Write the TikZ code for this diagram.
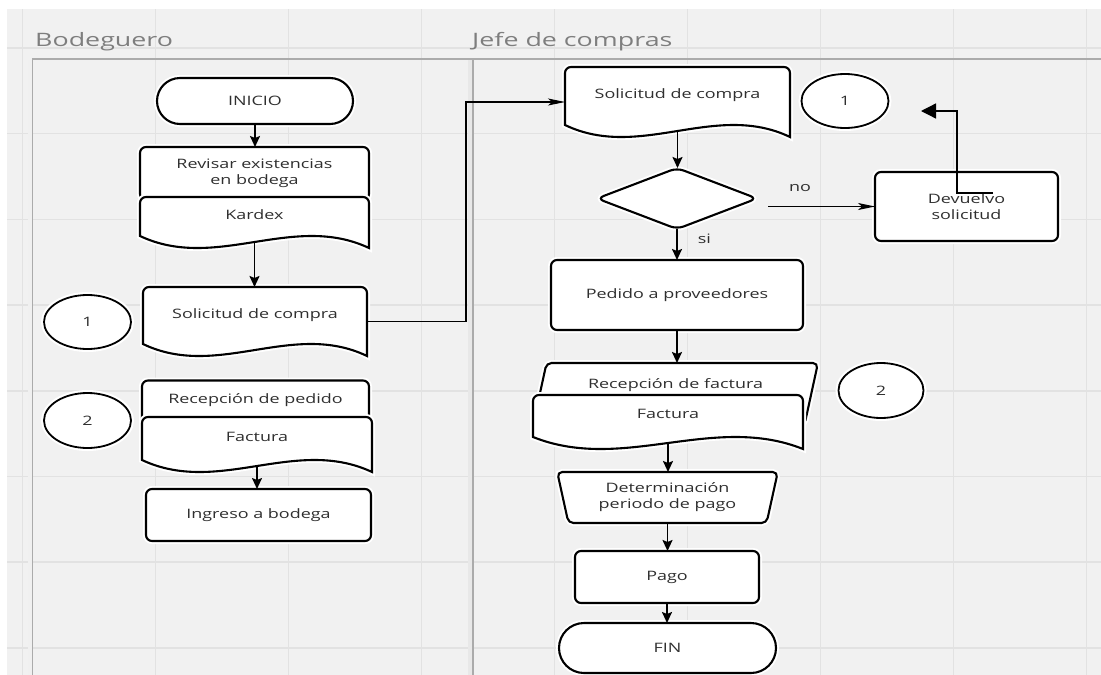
\documentclass[tikz,border=0pt]{standalone}
\usepackage{fontspec}
\setmainfont{Open Sans}[FakeStretch=1.38]
\newfontfamily\lanefont{Open Sans}[FakeStretch=1.45]
\usetikzlibrary{shapes.geometric,arrows.meta,calc}

\definecolor{canvas}{HTML}{F1F1F1}
\definecolor{gridc}{HTML}{E2E2E2}
\definecolor{lanec}{HTML}{ABABAB}
\definecolor{inkc}{HTML}{2F2F2F}
\definecolor{titlec}{HTML}{7E7E7E}

% Flowchart "document" symbol: rectangle with rounded top corners and a wavy bottom
\makeatletter
\newdimen\dcxa \newdimen\dcya \newdimen\dcxb \newdimen\dcyb \newdimen\dcw
\pgfdeclareshape{docshape}{%
  \inheritsavedanchors[from=rectangle]%
  \inheritanchorborder[from=rectangle]%
  \inheritanchor[from=rectangle]{center}%
  \inheritanchor[from=rectangle]{north}%
  \inheritanchor[from=rectangle]{south}%
  \inheritanchor[from=rectangle]{east}%
  \inheritanchor[from=rectangle]{west}%
  \inheritanchor[from=rectangle]{north east}%
  \inheritanchor[from=rectangle]{north west}%
  \inheritanchor[from=rectangle]{south east}%
  \inheritanchor[from=rectangle]{south west}%
  \inheritanchor[from=rectangle]{mid}%
  \inheritanchor[from=rectangle]{base}%
  \backgroundpath{%
    \southwest \dcxa=\pgf@x \dcya=\pgf@y
    \northeast \dcxb=\pgf@x \dcyb=\pgf@y
    \dcw=\dcxb \advance\dcw by -\dcxa
    \pgfpathmoveto{\pgfpoint{\dcxa}{\dcya+12pt}}%
    \pgfsetcornersarced{\pgfpoint{6pt}{6pt}}%
    \pgfpathlineto{\pgfpoint{\dcxa}{\dcyb}}%
    \pgfpathlineto{\pgfpoint{\dcxb}{\dcyb}}%
    \pgfpathlineto{\pgfpoint{\dcxb}{\dcyb-20pt}}%
    \pgfsetcornersarced{\pgfpointorigin}%
    \pgfpathlineto{\pgfpoint{\dcxb}{\dcya}}%
    \pgfpathcurveto{\pgfpoint{\dcxb-\dcw/3}{\dcya+36pt}}%
                   {\pgfpoint{\dcxb-2*\dcw/3}{\dcya-24pt}}%
                   {\pgfpoint{\dcxa}{\dcya+12pt}}%
    \pgfpathclose
  }%
}
\makeatother

\tikzset{
  box/.style={draw=black, line width=2.1pt, fill=white,
    preaction={draw=white, line width=6pt},
    inner sep=0pt, outer sep=0pt, text=inkc,
    font=\fontsize{13}{17}\selectfont},
  proc/.style={box, rectangle, rounded corners=6pt},
  stadium/.style={box, rectangle, rounded corners=#1},
  doc/.style={box, docshape, text height=9pt, text depth=16pt},
  conn/.style={box, ellipse, line width=1.8pt},
  flow/.style={line width=1.8pt, -{Stealth[length=11pt, width=10pt, inset=2pt]}},
  link/.style={line width=1.1pt, -{Stealth[length=17pt, width=7pt, inset=4pt]}},
  back/.style={line width=1.3pt, -{Triangle[length=15pt, width=15pt]}},
  lbl/.style={inner sep=0pt, text=inkc, font=\fontsize{13}{17}\selectfont},
  lanetitle/.style={inner sep=0pt, text=titlec, font=\lanefont\fontsize{18.5}{22}\selectfont}
}

\begin{document}
\begin{tikzpicture}[x=1pt, y=-1pt]
\useasboundingbox (0,0) rectangle (1101,675);

% canvas and grid
\fill[white] (0,0) rectangle (1101,675);
\fill[canvas] (7,9) rectangle (1101,675);
\foreach \gx in {0,...,8}
  \draw[gridc, line width=1.5pt] ({22.6+133*\gx},9) -- ({22.6+133*\gx},675);
\foreach \gy in {0,...,7}
  \draw[gridc, line width=1.5pt] (7,{48+85.7*\gy}) -- (1101,{48+85.7*\gy});

% swimlanes
\fill[black!9] (467.5,60) rectangle (472,675);
\fill[black!6] (28,60) rectangle (31.5,675);
\draw[lanec, line width=1.8pt] (32.5,675) -- (32.5,59) -- (1101,59);
\draw[lanec, line width=1.8pt] (473,59) -- (473,675);
\node[lanetitle, anchor=base west] (laneA) at (35,46.5) {Bodeguero};
\node[lanetitle, anchor=base west] (laneB) at (472,46.5) {Jefe de compras};

% ---- Bodeguero ----
\node[stadium=23pt, minimum width=196pt, minimum height=46pt] (inicio) at (255,101) {INICIO};
\node[proc, align=center, minimum width=229pt, minimum height=53pt] (revisar) at (254.5,173.5)
  {Revisar existencias\\[-1pt]en bodega};
\node[doc, minimum width=229pt, minimum height=51pt] (kardex) at (254.5,222.5) {Kardex};
\node[doc, minimum width=224pt, minimum height=69pt] (sol1) at (255,321.5) {Solicitud de compra};
\node[conn, minimum width=87pt, minimum height=54pt] (c1l) at (87.5,322) {1};
\node[conn, minimum width=87pt, minimum height=55pt] (c2l) at (87.5,420.5) {2};
\node[proc, minimum width=227pt, minimum height=50pt, text height=9pt, text depth=13pt] (recp) at (255.5,405.5) {Recepción de pedido};
\node[doc, minimum width=230pt, minimum height=55pt] (facl) at (257,444.5) {Factura};
\node[proc, minimum width=225pt, minimum height=52pt] (ing) at (258.5,515) {Ingreso a bodega};

% ---- Jefe de compras ----
\node[doc, minimum width=225pt, minimum height=70pt] (sol2) at (677.5,102) {Solicitud de compra};
\node[conn, minimum width=87pt, minimum height=54pt] (c1r) at (845,101) {1};
\node[box, diamond, rounded corners=7pt, minimum width=160pt, minimum height=61pt] (dia) at (677,198.5) {};
\node[proc, align=center, minimum width=183pt, minimum height=69pt] (dev) at (966.5,206.5)
  {Devuelvo\\[-1pt]solicitud};
\node[proc, minimum width=252pt, minimum height=70pt] (ped) at (677,295) {Pedido a proveedores};
\node[box, trapezium, trapezium left angle=73, trapezium right angle=107, trapezium stretches=true,
  rounded corners=5pt, minimum width=285pt, minimum height=62pt, text height=9pt, text depth=21pt]
  (recf) at (675.5,394) {Recepción de factura};
\node[doc, minimum width=270pt, minimum height=54pt] (facr) at (668,422) {Factura};
\node[conn, minimum width=85pt, minimum height=55pt] (c2r) at (881,390.5) {2};
\node[box, trapezium, shape border rotate=180, trapezium left angle=75, trapezium right angle=75,
  trapezium stretches=true, rounded corners=5pt, align=center,
  minimum width=221pt, minimum height=51pt] (det) at (667.5,497.5)
  {Determinación\\[-1pt]periodo de pago};
\node[proc, minimum width=184pt, minimum height=52pt] (pago) at (667,577) {Pago};
\node[stadium=25pt, minimum width=217pt, minimum height=50pt] (fin) at (667.5,648) {FIN};

% ---- connectors ----
\draw[flow] (inicio.south) -- (inicio.south |- revisar.north);
\draw[flow] ([yshift=6pt]kardex.south) -- (kardex.south |- sol1.north);
\draw[link] (sol1.east) -- ++(99,0) |- (sol2.west);
\draw[flow] ([yshift=6pt]sol2.south) -- (sol2.south |- dia.north);
\draw[link] ($(dia.east |- dev.west)+(11pt,0)$) -- (dev.west)
  node[lbl, pos=0.3, above=14pt] {no};
\draw[flow] (dia.south) -- (dia.south |- ped.north)
  node[lbl, pos=0.3, right=20pt] {si};
\coordinate (ret) at (921,111);
\draw[back] ([shift={(26.5pt,13.5pt)}]dev.center) -- ([shift={(-9.5pt,13.5pt)}]dev.center) |- (ret);
\draw[flow] (ped.south) -- (ped.south |- recf.north);
\draw[flow] ([yshift=6pt]facr.south) -- (facr.south |- det.north);
\draw[flow] (det.south) -- (det.south |- pago.north);
\draw[flow] (pago.south) -- (pago.south |- fin.north);
\draw[flow] ([yshift=6pt]facl.south) -- (facl.south |- ing.north);
\end{tikzpicture}
\end{document}
